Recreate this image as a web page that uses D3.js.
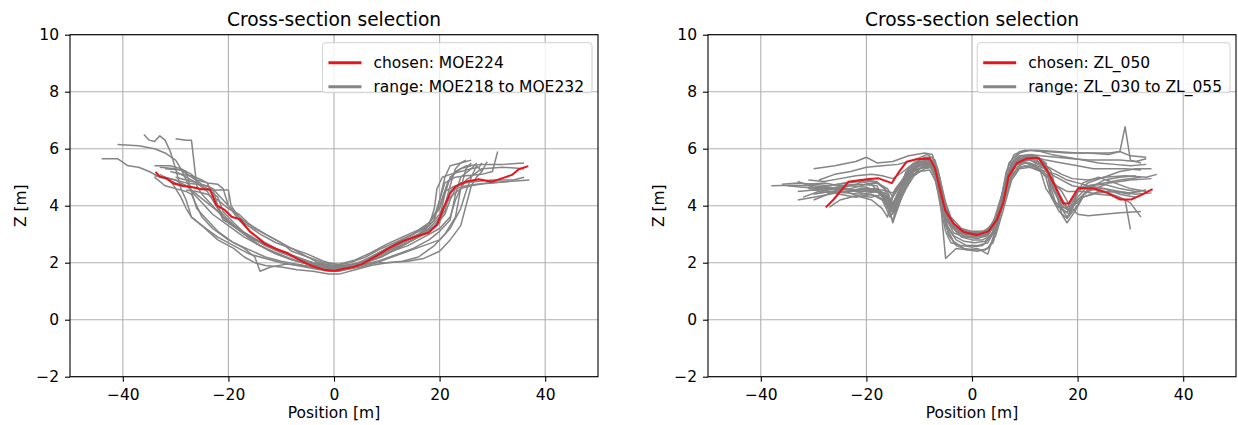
<!DOCTYPE html>
<html>
<head>
<meta charset="utf-8">
<script src="https://cdn.jsdelivr.net/npm/d3@7"></script>
<style>
  body { margin: 0; background: #fff; }
  svg { font-family: "DejaVu Sans", sans-serif; }
  .tick text { font-size: 15.5px; fill: #000; }
  .title { font-size: 18.6px; text-anchor: middle; }
  .axis-label { font-size: 15.5px; text-anchor: middle; }
  .legend text { font-size: 15.5px; }
</style>
</head>
<body>
<svg width="1238" height="425"></svg>
<script>
// ---- data ----
const xTicks = [-40, -20, 0, 20, 40];
const yTicks = [-2, 0, 2, 4, 6, 8, 10];

const leftLabels = ['chosen: MOE224', 'range: MOE218 to MOE232'];
const rightLabels = ['chosen: ZL_050', 'range: ZL_030 to ZL_055'];

const leftChosen = [[-33.8,5.19],[-33,5.02],[-31.7,4.96],[-30.5,4.79],[-28.6,4.69],[-26.7,4.65],[-25.1,4.58],[-23.5,4.58],[-22.3,4.02],[-20.7,3.85],[-19.4,3.61],[-17.8,3.52],[-15.9,3.09],[-14.3,2.86],[-13.1,2.66],[-11.2,2.5],[-8.7,2.33],[-6.8,2.12],[-4.2,1.89],[-1.7,1.74],[0.2,1.72],[2.1,1.8],[3.5,1.84],[5.3,1.95],[7.8,2.21],[10.3,2.5],[12.8,2.74],[15.4,2.91],[17.9,3.05],[19.5,3.32],[20.8,3.96],[22,4.43],[23,4.67],[24.9,4.84],[27.4,4.93],[29.9,4.84],[31.8,4.96],[33.7,5.08],[35,5.28],[36.8,5.39]];

const leftRange = [
  [[-44,5.65],[-41,5.65],[-39,5.4],[-37,5.35],[-35,5.2],[-33,5.0],[-30,4.9],[-28,4.7],[-26,4.4],[-24,4.1],[-22,3.8],[-20,3.4],[-17,3.0],[-14,2.6],[-11,2.3],[-8,2.1],[-5,1.95],[-2,1.85],[0,1.8],[3,1.85],[6,2.0],[9,2.3],[12,2.6],[15,2.9],[18,3.2],[20,3.6],[21,4.4],[22,5.0],[24,5.3],[26,5.4]],
  [[-41,6.15],[-37,6.1],[-34,6.0],[-32,5.85],[-30,5.6],[-29,5.3],[-28,4.9],[-27,4.5],[-25,4.1],[-23,3.7],[-20,3.3],[-17,2.9],[-14,2.6],[-11,2.35],[-8,2.1],[-5,1.95],[-2,1.85],[0,1.8],[3,1.9],[6,2.1],[9,2.4],[12,2.7],[15,3.0],[18,3.4],[20,4.0],[21.5,4.8],[23,5.2],[25,5.4],[28,5.45],[32,5.45],[36,5.5]],
  [[-36,6.5],[-35,6.3],[-34,6.25],[-33,6.45],[-32,6.3],[-31,5.9],[-30,5.3],[-29,4.6],[-28,4.2],[-27,3.6],[-25,3.3],[-22,2.9],[-19,2.6],[-16,2.3],[-13,2.15],[-10,2.0],[-7,1.9],[-4,1.8],[-1,1.7],[1,1.7],[4,1.85],[7,2.0],[10,2.0],[13,2.05],[16,2.2],[19,2.6],[21,3.0],[23,3.6],[24,4.6],[25,5.3],[26,5.5]],
  [[-30,6.35],[-28,6.3],[-27,6.3],[-26.5,5.5],[-26,4.7],[-25,4.4],[-23,4.0],[-21,3.6],[-19,3.3],[-16,2.95],[-13,2.6],[-10,2.4],[-7,2.2],[-4,2.0],[-1,1.85],[2,1.85],[5,2.0],[8,2.3],[11,2.6],[14,2.9],[17,3.2],[19,3.6],[20,4.2],[21,5.0],[22,5.4],[24,5.5],[26,5.6]],
  [[-34,5.05],[-32,5.0],[-30,4.9],[-28,4.8],[-26,4.75],[-24,4.7],[-23,4.6],[-22,4.0],[-21,3.6],[-19,3.3],[-17,3.0],[-15,2.7],[-12,2.4],[-9,2.2],[-6,2.0],[-3,1.85],[0,1.75],[3,1.85],[6,2.0],[9,2.2],[12,2.5],[15,2.8],[18,3.1],[20,3.4],[21,4.0],[22,4.7],[23,5.3],[24,5.5],[25,5.6]],
  [[-34,5.4],[-31,5.4],[-29,5.3],[-27,5.1],[-26,4.9],[-24,4.8],[-22,4.75],[-21,4.6],[-20,4.0],[-18,3.5],[-16,3.1],[-13,2.7],[-10,2.4],[-7,2.15],[-4,2.0],[-1,1.9],[2,1.9],[5,2.0],[8,2.15],[11,2.4],[14,2.7],[17,3.0],[19,3.3],[21,3.8],[22,4.5],[24,4.8],[27,4.85],[30,4.9],[34,4.9],[36,5.0]],
  [[-34,5.1],[-32,4.95],[-30,4.8],[-28,4.7],[-26,4.6],[-24,4.55],[-22,4.55],[-20,4.55],[-19.5,4.0],[-18,3.6],[-15,3.2],[-12,2.9],[-9,2.6],[-6,2.3],[-3,2.0],[0,1.9],[3,2.0],[6,2.2],[9,2.5],[12,2.75],[15,3.0],[18,3.3],[20,3.7],[22,4.3],[24,4.6],[26,4.7],[29,4.8],[33,4.85],[37,4.9]],
  [[-32,5.3],[-29,5.25],[-27,5.0],[-25,4.75],[-23,4.6],[-21,4.2],[-19,3.8],[-17,3.4],[-14,3.0],[-11,2.7],[-8,2.5],[-5,2.3],[-2,2.05],[1,1.9],[4,1.95],[7,2.2],[10,2.5],[13,2.75],[16,3.0],[18,3.3],[19,3.9],[19.5,4.6],[20.5,5.0],[22,5.1],[24,5.2],[26,5.3],[27.5,5.35],[28,5.5]],
  [[-33,5.1],[-31,4.9],[-29,4.3],[-28,3.9],[-27,3.6],[-25,3.3],[-22,2.8],[-19,2.5],[-17,2.2],[-15,2.0],[-13,1.9],[-10,1.85],[-7,1.75],[-4,1.7],[-1,1.6],[1,1.6],[4,1.75],[7,1.9],[10,2.0],[14,2.05],[17,2.15],[20,2.4],[22,2.8],[24,3.3],[25,4.0],[26,4.7],[27,5.0],[28,5.2]],
  [[-34,5.0],[-32,4.7],[-30,4.6],[-28,4.5],[-27,4.4],[-26,4.0],[-25,3.6],[-23,3.2],[-20,2.8],[-17,2.5],[-15,2.2],[-14,1.7],[-12,1.85],[-9,1.95],[-6,1.9],[-3,1.8],[0,1.7],[3,1.8],[6,1.95],[9,2.1],[12,2.3],[15,2.5],[18,2.8],[20,3.1],[22,3.5],[23,4.4],[24,5.0],[26,5.3],[27,5.5]],
  [[-30,5.0],[-28,4.9],[-26,4.8],[-24,4.5],[-22,3.9],[-20,3.5],[-18,3.15],[-15,2.8],[-12,2.55],[-9,2.3],[-6,2.1],[-3,1.95],[0,1.85],[3,1.9],[6,2.05],[9,2.3],[12,2.55],[15,2.8],[17,3.1],[19,3.5],[20,4.2],[21,4.8],[23,5.0],[25,5.05],[28,5.1],[30,5.2],[31,5.9]],
  [[-31,5.2],[-29,5.1],[-27,5.05],[-25,4.9],[-24,4.8],[-23,4.4],[-22,3.9],[-21,3.5],[-19,3.3],[-16,2.9],[-13,2.6],[-10,2.35],[-7,2.15],[-4,1.95],[-1,1.8],[2,1.8],[5,1.95],[8,2.15],[11,2.4],[14,2.6],[17,2.9],[20,3.2],[22,3.6],[23,4.2],[24,4.6],[25,4.9],[28,5.3],[32,5.35],[36,5.3]],
  [[-28,4.55],[-26,4.5],[-24,4.4],[-22,4.2],[-20,3.9],[-18,3.7],[-16,3.35],[-13,3.0],[-10,2.7],[-8,2.4],[-5,2.2],[-2,2.0],[1,1.95],[4,2.1],[7,2.35],[10,2.65],[13,2.9],[16,3.15],[18,3.4],[20,3.9],[21,4.5],[23,4.7],[25,4.8],[27,4.9]],
  [[-33,5.35],[-30,5.3],[-28,5.2],[-27,4.5],[-26,3.9],[-24,3.5],[-22,3.1],[-19,2.7],[-16,2.45],[-13,2.2],[-10,2.05],[-7,1.95],[-4,1.85],[-1,1.75],[2,1.75],[5,1.85],[8,2.0],[11,2.2],[14,2.4],[17,2.6],[20,2.8],[22,3.2],[24,3.9],[25,4.5],[26,5.0],[27,5.4],[28,5.2],[29,5.55]],
  [[-30,5.2],[-28,5.0],[-26,4.8],[-24,4.6],[-22,4.3],[-21,3.8],[-19,3.4],[-17,3.05],[-14,2.75],[-11,2.5],[-8,2.25],[-5,2.05],[-2,1.9],[1,1.85],[4,1.95],[7,2.15],[10,2.45],[13,2.7],[16,2.95],[19,3.25],[21,3.7],[22,4.2],[23,4.6],[25,4.7],[27,4.75],[30,4.8],[33,4.85]]
];

const rightChosen = [[-27.7,3.94],[-26.3,4.2],[-23.4,4.84],[-19.9,4.93],[-17.7,4.96],[-15.2,4.79],[-14,5.14],[-12.4,5.54],[-10.5,5.63],[-8,5.66],[-7,5.31],[-6.1,4.61],[-5.1,3.85],[-3.5,3.38],[-1.6,3.08],[0.9,2.97],[3.1,3.1],[4.7,3.5],[5.9,4.08],[6.9,5.02],[8.5,5.49],[10.4,5.66],[12.6,5.68],[14.2,5.25],[16.1,4.55],[17.3,4.08],[18.3,4.08],[20.1,4.61],[23,4.61],[25.5,4.46],[28,4.22],[30.2,4.22],[32.1,4.38],[34.2,4.58]];

const rightRange = [
  [[-38,4.7],[-34,4.72],[-30,4.7],[-26,4.6],[-22,4.55],[-18,4.6],[-16,4.3],[-15,3.9],[-14,4.4],[-12,5.2],[-10,5.5],[-8,5.55],[-7,5.2],[-6,4.4],[-5,3.7],[-3,3.2],[-1,2.95],[1,2.9],[3,3.0],[4.5,3.4],[6,4.2],[7,5.0],[8,5.5],[10,5.7],[13,5.65],[15,5.2],[16,4.5],[17,3.9],[18,3.6],[19,3.9],[20,4.5],[22,4.7],[25,4.6],[28,4.4],[31,4.3]],
  [[-33,4.85],[-30,4.65],[-27,4.6],[-24,4.7],[-21,4.75],[-18,4.7],[-16,4.0],[-15,3.45],[-14,4.2],[-12,5.3],[-10,5.6],[-8,5.65],[-7,5.3],[-6,4.5],[-5,3.5],[-3,3.1],[-1,3.0],[1,3.0],[3,3.1],[4.5,3.6],[6,4.5],[7.5,5.4],[9,5.75],[12,5.75],[14,5.5],[15,4.6],[16,4.0],[18,3.75],[19,4.1],[21,4.8],[24,5.0],[27,4.8],[30,4.6],[33,4.5]],
  [[-30,5.3],[-26,5.4],[-22,5.55],[-20,5.7],[-18,5.5],[-15,5.55],[-12,5.75],[-9,5.85],[-7.5,5.8],[-6.5,5.1],[-5.5,4.2],[-4.5,3.5],[-2.5,3.15],[0,3.05],[2,3.05],[4,3.3],[5.5,4.2],[6.5,5.2],[8,5.8],[10,5.95],[14,5.9],[18,5.85],[22,5.85],[26,5.8],[28,5.9],[29,6.77],[30,5.6],[32,5.5]],
  [[-29,4.9],[-26,5.1],[-23,5.2],[-20,5.35],[-17,5.4],[-14,5.45],[-11,5.6],[-8.5,5.8],[-7,5.6],[-6,4.9],[-5,4.0],[-3.5,3.3],[-1,3.1],[1.5,3.0],[3.5,3.2],[5,3.8],[6,4.7],[7,5.5],[9,5.9],[12,5.95],[16,5.9],[20,5.85],[24,5.85],[26,5.85],[28,5.9],[30,5.75],[33,5.7]],
  [[-30,4.2],[-28,4.35],[-25,4.6],[-22,4.5],[-19,4.55],[-17,4.4],[-15,3.8],[-13,4.6],[-11,5.2],[-9,5.4],[-7.5,5.4],[-6.5,4.8],[-5.5,4.0],[-4,3.3],[-2,2.9],[0,2.8],[2,2.8],[4,3.0],[5.5,3.8],[7,4.9],[8.5,5.3],[10,5.4],[12,5.3],[14,5.2],[16,5.1],[18,4.9],[20,4.8],[22,4.7],[25,4.8],[28,4.9],[32,5.0]],
  [[-31,4.6],[-28,4.55],[-25,4.4],[-22,4.3],[-19,4.4],[-17,4.2],[-15.5,3.6],[-14,4.1],[-12,4.9],[-10,5.3],[-8,5.4],[-7,5.0],[-6,4.0],[-5,3.1],[-4,2.7],[-2,2.6],[0,2.55],[2,2.6],[3.5,2.9],[5,3.6],[6.5,4.8],[8,5.4],[10,5.5],[12,5.4],[14,5.3],[16,4.4],[17,3.7],[18,3.4],[19.5,3.8],[21,4.3],[24,4.5],[27,4.5],[30,4.4]],
  [[-30,4.6],[-27,4.7],[-24,4.8],[-21,4.85],[-19,4.75],[-17,4.3],[-16,3.9],[-14.5,4.6],[-12,5.2],[-10,5.5],[-8,5.5],[-7,5.1],[-6,4.2],[-5,2.15],[-3,2.5],[-1,2.45],[1,2.5],[3,2.3],[4.5,3.2],[6,4.3],[7.5,5.3],[9,5.6],[12,5.65],[14,5.3],[15.5,4.5],[17,4.0],[18.5,3.8],[20,4.2],[22,4.5],[26,4.8],[30,4.9],[34,4.95]],
  [[-27,3.95],[-25,4.2],[-22,4.35],[-19,4.3],[-17,4.4],[-15,4.1],[-13,4.7],[-11,5.3],[-9,5.45],[-7.5,5.5],[-6.5,4.9],[-5.5,4.0],[-4,3.4],[-2,3.1],[0,3.0],[2,2.95],[4,3.2],[5.5,3.9],[7,5.0],[8.5,5.5],[11,5.6],[13,5.4],[15,5.1],[17,4.9],[19,4.7],[22,4.6],[25,4.5],[28,4.3],[30,4.1],[32,3.6]],
  [[-29,4.45],[-26,4.5],[-23,4.6],[-20,4.75],[-18,4.8],[-16,4.5],[-15,4.0],[-14,4.4],[-12,5.1],[-10,5.4],[-8,5.45],[-7,5.2],[-6,4.6],[-5,3.8],[-3.5,3.25],[-1.5,3.1],[0.5,3.05],[2.5,3.1],[4,3.4],[5.5,4.3],[7,5.2],[9,5.6],[11,5.65],[13,5.5],[15,5.3],[17,5.1],[19,4.95],[22,4.9],[25,5.0],[29,5.05],[33,5.0],[35,5.1]],
  [[-31,4.75],[-28,4.8],[-25,4.7],[-22,4.75],[-20,4.9],[-18,4.85],[-16.5,4.6],[-15,3.7],[-14,4.3],[-12.5,5.2],[-10.5,5.5],[-8.5,5.6],[-7,5.35],[-6,4.6],[-4.5,3.5],[-3,3.1],[-1,2.9],[1,2.85],[3,2.95],[4.5,3.4],[6,4.4],[7,5.3],[9,5.7],[11,5.75],[13,5.65],[14,5.4],[15,4.4],[16,4.0],[18,3.9],[20,4.5],[22,4.8],[25,5.0],[28,5.2],[31,5.3],[34,5.3]],
  [[-33,4.5],[-30,4.55],[-27,4.45],[-24,4.5],[-21,4.6],[-18,4.55],[-16,4.4],[-15,4.0],[-13.5,4.5],[-12,5.0],[-10,5.2],[-8,5.25],[-7,4.9],[-6,4.2],[-5,3.4],[-3.5,2.95],[-1.5,2.75],[0.5,2.7],[2.5,2.75],[4,3.1],[5.5,4.0],[7,5.0],[8.5,5.5],[11,5.5],[13,5.2],[14,4.6],[15.5,4.2],[17,3.9],[18.5,3.7],[20,4.3],[22,4.7],[25,4.75],[28,4.6],[31,4.5],[33,4.55]],
  [[-28,4.6],[-25,4.65],[-22,4.5],[-19,4.5],[-17,4.45],[-16,4.1],[-15,3.4],[-13.5,4.2],[-11.5,5.0],[-9.5,5.35],[-8,5.45],[-7,5.25],[-6,4.7],[-5,4.1],[-4,3.6],[-2,3.2],[0,3.1],[2,3.1],[4,3.3],[5.5,4.1],[6.5,5.0],[8,5.55],[10,5.7],[12,5.7],[14,5.6],[17,5.5],[20,5.4],[23,5.3],[26,5.3],[29,5.3],[32,5.25]],
  [[-32,4.3],[-29,4.5],[-26,4.6],[-23,4.55],[-20,4.4],[-18,4.35],[-16.5,4.15],[-15.5,3.8],[-14,4.5],[-12,5.15],[-10,5.45],[-8,5.5],[-7,5.1],[-6,4.3],[-5,3.3],[-3.5,2.75],[-1.5,2.5],[0.5,2.45],[2.5,2.45],[4,2.7],[5,3.4],[6.5,4.6],[8,5.3],[10,5.5],[12,5.45],[14,5.0],[15,4.3],[16.5,3.8],[18,3.55],[19.5,3.9],[21,4.3],[24,4.45],[27,4.5],[30,4.45],[32,4.5]],
  [[-26,4.45],[-23,4.5],[-20,4.6],[-17,4.55],[-15,4.45],[-13,4.85],[-11,5.35],[-9,5.55],[-7.5,5.6],[-6.5,5.15],[-5.5,4.3],[-4.5,3.6],[-3,3.2],[-1,3.05],[1,3.0],[3,3.05],[4.5,3.5],[6,4.5],[7.5,5.45],[9,5.75],[11,5.8],[13,5.75],[16,5.7],[19,5.65],[22,5.6],[25,5.6],[28,5.6],[31,5.55],[33,5.65]],
  [[-30,4.4],[-27,4.5],[-24,4.45],[-21,4.4],[-18,4.5],[-16,4.2],[-14.5,3.75],[-13,4.45],[-11,5.05],[-9,5.3],[-7.5,5.35],[-6.5,4.9],[-5.5,3.9],[-4.5,3.0],[-3,2.6],[-1,2.45],[1,2.4],[3,2.5],[4.5,2.95],[6,3.9],[7.5,4.9],[9,5.3],[11,5.35],[13,5.2],[15,4.9],[17,4.5],[18.5,4.0],[20,3.7],[22,3.65],[25,3.7],[28,3.75],[32,3.8]],
  [[-35,4.7],[-32,4.65],[-29,4.6],[-26,4.55],[-23,4.7],[-20,4.65],[-18,4.5],[-16,4.3],[-15,3.95],[-14,4.35],[-12,5.05],[-10,5.4],[-8,5.5],[-7,5.15],[-6,4.45],[-5,3.6],[-3.5,3.05],[-1.5,2.9],[0.5,2.9],[2.5,2.95],[4,3.25],[5.5,4.15],[7,5.1],[8.5,5.55],[11,5.6],[13,5.45],[15,5.0],[16.5,4.4],[18,3.95],[20,4.1],[22,4.6],[25,4.9],[28,5.0],[31,5.05]],
  [[-31,4.9],[-28,4.85],[-25,4.95],[-22,5.05],[-19,5.1],[-17,5.05],[-15,4.95],[-13,5.2],[-11,5.5],[-9,5.7],[-7.5,5.7],[-6.5,5.3],[-5.5,4.5],[-4.5,3.7],[-3,3.25],[-1,3.1],[1,3.05],[3,3.15],[4.5,3.6],[6,4.6],[7.5,5.5],[9,5.85],[11,5.95],[13,5.9],[15,5.8],[18,5.7],[21,5.6],[24,5.5],[27,5.45],[30,5.4],[33,5.45]],
  [[-33,4.2],[-30,4.3],[-27,4.4],[-24,4.5],[-21,4.3],[-19,4.2],[-17,3.9],[-16,3.6],[-15,4.3],[-13,4.9],[-11,5.25],[-9,5.35],[-7.5,5.35],[-6.5,4.8],[-5.5,3.9],[-4.5,3.2],[-3,2.8],[-1,2.6],[1,2.6],[3,2.7],[4.5,3.2],[6,4.1],[7.5,5.0],[9,5.35],[11,5.4],[13,5.3],[14.5,5.0],[16,4.7],[18,4.5],[21,4.5],[24,4.4],[27,4.35],[29,4.2],[30,3.17]],
  [[-36,4.75],[-33,4.8],[-30,4.75],[-27,4.7],[-24,4.8],[-21,4.9],[-18,4.8],[-16,4.6],[-15,4.3],[-13.5,4.8],[-12,5.3],[-10,5.55],[-8,5.6],[-7,5.3],[-6,4.6],[-5,3.8],[-3.5,3.2],[-1.5,3.0],[0.5,2.95],[2.5,3.0],[4,3.3],[5.5,4.2],[7,5.2],[8.5,5.65],[11,5.7],[13,5.6],[14.5,5.2],[15.5,4.6],[17,4.1],[18.5,3.85],[20,4.2],[22,4.55],[25,4.6],[28,4.5],[31,4.4],[34,4.45]]
];

// ---- drawing ----
const svg = d3.select('svg');
const plotW = 528, plotH = 342, plotTop = 34.7;
const red = '#e8141b', grey = '#858585';

const render = (left, chosen, range, labels) => {
  const xScale = d3.scaleLinear().domain([-50, 50]).range([0, plotW]);
  const yScale = d3.scaleLinear().domain([-2, 10]).range([plotH, 0]);

  const g = svg.append('g').attr('transform', `translate(${left},${plotTop})`);

  // grid
  g.selectAll('.vgrid').data(xTicks).enter().append('line')
    .attr('x1', d => xScale(d)).attr('x2', d => xScale(d))
    .attr('y1', 0).attr('y2', plotH)
    .attr('stroke', '#b0b0b0').attr('stroke-width', 1.1);
  g.selectAll('.hgrid').data(yTicks).enter().append('line')
    .attr('y1', d => yScale(d)).attr('y2', d => yScale(d))
    .attr('x1', 0).attr('x2', plotW)
    .attr('stroke', '#b0b0b0').attr('stroke-width', 1.1);

  const line = d3.line().x(d => xScale(d[0])).y(d => yScale(d[1]));

  g.selectAll('.range').data(range).enter().append('path')
    .attr('d', line).attr('fill', 'none')
    .attr('stroke', grey).attr('stroke-width', 1.5)
    .attr('stroke-linejoin', 'round');

  g.append('path').datum(chosen)
    .attr('d', line).attr('fill', 'none')
    .attr('stroke', red).attr('stroke-width', 2)
    .attr('stroke-linejoin', 'round');

  // axes
  const xAxis = g.append('g').attr('transform', `translate(0,${plotH})`)
    .call(d3.axisBottom(xScale).tickValues(xTicks).tickSize(5).tickPadding(7));
  const yAxis = g.append('g')
    .call(d3.axisLeft(yScale).tickValues(yTicks).tickSize(5).tickPadding(6));
  [xAxis, yAxis].forEach(a => {
    a.attr('font-family', null).attr('font-size', null);
    a.select('.domain').remove();
    a.selectAll('.tick line').attr('stroke', '#000').attr('stroke-width', 1.1);
  });

  g.append('rect')
    .attr('width', plotW).attr('height', plotH)
    .attr('fill', 'none').attr('stroke', '#000').attr('stroke-width', 1.1);

  g.append('text').attr('class', 'title')
    .attr('x', plotW / 2).attr('y', -9)
    .text('Cross-section selection');
  g.append('text').attr('class', 'axis-label')
    .attr('x', plotW / 2).attr('y', plotH + 41)
    .text('Position [m]');
  g.append('text').attr('class', 'axis-label')
    .attr('transform', `translate(-44,${plotH / 2}) rotate(-90)`)
    .text('Z [m]');

  // legend
  const leg = g.append('g').attr('class', 'legend');
  const box = leg.append('rect')
    .attr('fill', '#fff').attr('fill-opacity', 0.8)
    .attr('stroke', '#d0d0d0').attr('rx', 3);
  const items = leg.selectAll('.item').data(labels).enter().append('g')
    .attr('transform', (d, i) => `translate(0,${20 + i * 24})`);
  items.append('line')
    .attr('x1', 0).attr('x2', 33)
    .attr('stroke', (d, i) => i === 0 ? red : grey)
    .attr('stroke-width', 3);
  items.append('text').attr('x', 45).attr('dy', '0.35em').text(d => d);
  const textW = d3.max(items.selectAll('text').nodes(), n => n.getComputedTextLength());
  const boxW = 45 + textW + 8;
  box.attr('x', -6).attr('y', 0).attr('width', boxW + 6).attr('height', 50);
  leg.attr('transform', `translate(${plotW - 6 - boxW},8)`);
};

render(70, leftChosen, leftRange, leftLabels);
render(708, rightChosen, rightRange, rightLabels);
</script>
</body>
</html>
